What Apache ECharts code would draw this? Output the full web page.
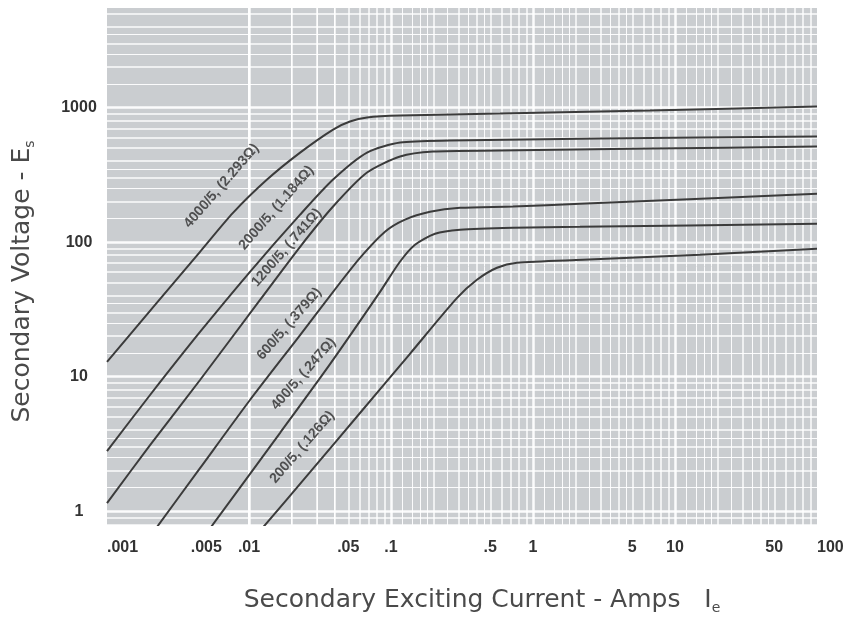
<!DOCTYPE html>
<html><head><meta charset="utf-8">
<script src="https://cdn.jsdelivr.net/npm/echarts@6/dist/echarts.min.js"></script>
<style>html,body{margin:0;padding:0;background:#fff}#c{width:848px;height:620px}</style>
</head><body><div id="c"></div>
<script>
// ---- tick labels ----
const xTickValues = [0.001, 0.005, 0.01, 0.05, 0.1, 0.5, 1, 5, 10, 50, 100];
const xTickLabels = ['.001', '.005', '.01', '.05', '.1', '.5', '1', '5', '10', '50', '100'];
const yTickValues = [1, 10, 100, 1000];
const yTickLabels = ['1', '10', '100', '1000'];

// ---- curves: [exciting current (A), secondary voltage (V)] ----
const curve4000 = [[0.001,12.9],[0.00218,34.2],[0.00452,84.8],[0.00771,165],[0.0134,292],[0.0229,463],[0.0391,687],[0.0514,788],[0.0678,844],[0.116,873],[0.586,903],[6.67,951],[100,1019]];
const curve2000 = [[0.001,2.80],[0.00201,7.31],[0.00452,21.5],[0.01016,60.2],[0.0229,160],[0.0391,292],[0.0678,463],[0.116,550],[0.260,569],[2.97,589],[100,609]];
const curve1200 = [[0.001,1.15],[0.00201,3.10],[0.00452,9.45],[0.01196,37.2],[0.0229,92.4],[0.0391,184],[0.0678,329],[0.116,433],[0.198,471],[0.586,479],[6.67,496],[100,513]];
const curve600  = [[0.00204,0.663],[0.00452,2.09],[0.01016,6.71],[0.0229,20.4],[0.0438,49.9],[0.0605,76.5],[0.0907,119.5],[0.1255,147],[0.1882,168],[0.306,180],[0.723,184],[2.14,193],[100,229]];
const curve400  = [[0.0049,0.663],[0.01651,3.81],[0.0372,12.4],[0.0837,42.7],[0.1156,71.5],[0.1476,95.6],[0.2042,115.5],[0.306,123.7],[0.723,128],[2.14,130],[100,137]];
const curve200  = [[0.01157,0.686],[0.0269,1.95],[0.0605,5.37],[0.136,14.8],[0.292,38.5],[0.403,52.5],[0.558,64.5],[0.771,70.2],[2.25,73.9],[15.0,80.6],[100,89.3]];

const curveNames = ['4000/5, (2.293Ω)', '2000/5, (1.184Ω)', '1200/5, (.741Ω)', '600/5, (.379Ω)', '400/5, (.247Ω)', '200/5, (.126Ω)'];
const curves = [curve4000, curve2000, curve1200, curve600, curve400, curve200];
// label anchor (data coords) for each curve's text
const labelX = [0.0064, 0.0156, 0.0184, 0.0192, 0.0242, 0.0237];
const labelY = [262, 180, 91, 24.7, 10.5, 3.0];

// ---- axis ranges & graph-paper rulings ----
const xMin = 0.001, xMax = 100, yMin = 0.79, yMax = 5500;
const decades = [0.0001, 0.001, 0.01, 0.1, 1, 10, 100, 1000];
const majorMult = [1];
const midMult = [2, 3, 4, 5, 6, 7, 8, 9];
const fineMultX = [1.2, 1.4, 1.6, 1.8, 2.5, 3.5, 4.5];
const fineMultY = [1.5, 2.5, 3.5];

function rulings(axisKey, lo, hi, fine) {
  const out = [];
  const add = (mults, w) => decades.forEach(d => mults.forEach(m => {
    const v = +(d * m).toPrecision(6);
    if (v > lo * 1.0001 && v < hi * 0.9999) {
      const o = {lineStyle: {width: w}}; o[axisKey] = v; out.push(o);
    }
  }));
  add(fine, 1);
  add(midMult, 1.5);
  add(majorMult, 2.5);
  return out;
}

const chart = echarts.init(document.getElementById('c'));
const labelFont = "'Liberation Sans', Arial, sans-serif";
const titleFont = "'DejaVu Sans', 'Noto Sans', sans-serif";

const series = [{
  type: 'line', z: 1, silent: true, data: [],
  markLine: {
    silent: true, symbol: 'none', animation: false,
    label: {show: false},
    lineStyle: {color: '#ffffff', type: 'solid', opacity: 0.92},
    data: rulings('xAxis', xMin, xMax, fineMultX).concat(rulings('yAxis', yMin, yMax, fineMultY))
  }
}];
curves.forEach((c, i) => series.push({
  type: 'line', name: curveNames[i], data: c, z: 5,
  smooth: 0.25, showSymbol: false, symbol: 'none', clip: true,
  lineStyle: {color: '#3b3b3b', width: 2}
}));
series.push({
  type: 'scatter', z: 6, symbolSize: 0, silent: true,
  data: curveNames.map((n, i) => [labelX[i], labelY[i], n]),
  label: {
    show: true, position: 'inside', rotate: 49,
    formatter: p => p.data[2],
    fontFamily: labelFont, fontWeight: 'bold', fontSize: 14, color: '#2e2e2e'
  }
});

chart.setOption({
  animation: false,
  backgroundColor: '#ffffff',
  grid: {left: 107, right: 31, top: 8, bottom: 95, show: true, backgroundColor: '#cacdd0', borderWidth: 0, outerBoundsMode: 'none', containLabel: false},
  xAxis: {
    type: 'log', min: xMin, max: xMax, logBase: 10,
    axisLine: {show: false}, axisTick: {show: false}, splitLine: {show: false},
    axisLabel: {
      customValues: xTickValues, margin: 15,
      formatter: v => { const i = xTickValues.findIndex(t => Math.abs(t - v) / t < 1e-6); return i >= 0 ? xTickLabels[i] : ''; },
      fontFamily: labelFont, fontWeight: 'bold', fontSize: 16, color: '#333',
      alignMinLabel: 'left', alignMaxLabel: 'left'
    },
    name: 'Secondary Exciting Current - Amps   I{s|e}', nameLocation: 'middle', nameGap: 60,
    nameTextStyle: {
      fontFamily: titleFont, fontSize: 25, color: '#4a4a4a', padding: [0, 0, 0, 40],
      rich: {s: {fontFamily: titleFont, fontSize: 14, color: '#4a4a4a', padding: [16, 0, 0, 0]}}
    }
  },
  yAxis: {
    type: 'log', min: yMin, max: yMax, logBase: 10,
    axisLine: {show: false}, axisTick: {show: false}, splitLine: {show: false},
    axisLabel: {
      customValues: yTickValues, margin: 28, align: 'center',
      formatter: v => { const i = yTickValues.findIndex(t => Math.abs(t - v) / t < 1e-6); return i >= 0 ? yTickLabels[i] : ''; },
      fontFamily: labelFont, fontWeight: 'bold', fontSize: 16, color: '#333'
    },
    name: 'Secondary Voltage - E{s|s}', nameLocation: 'middle', nameGap: 70, nameRotate: 90,
    nameTextStyle: {
      fontFamily: titleFont, fontSize: 25, color: '#4a4a4a', padding: [0, 30, 0, 0],
      rich: {s: {fontFamily: titleFont, fontSize: 14, color: '#4a4a4a', padding: [16, 0, 0, 0]}}
    }
  },
  series: series
});
</script></body></html>
